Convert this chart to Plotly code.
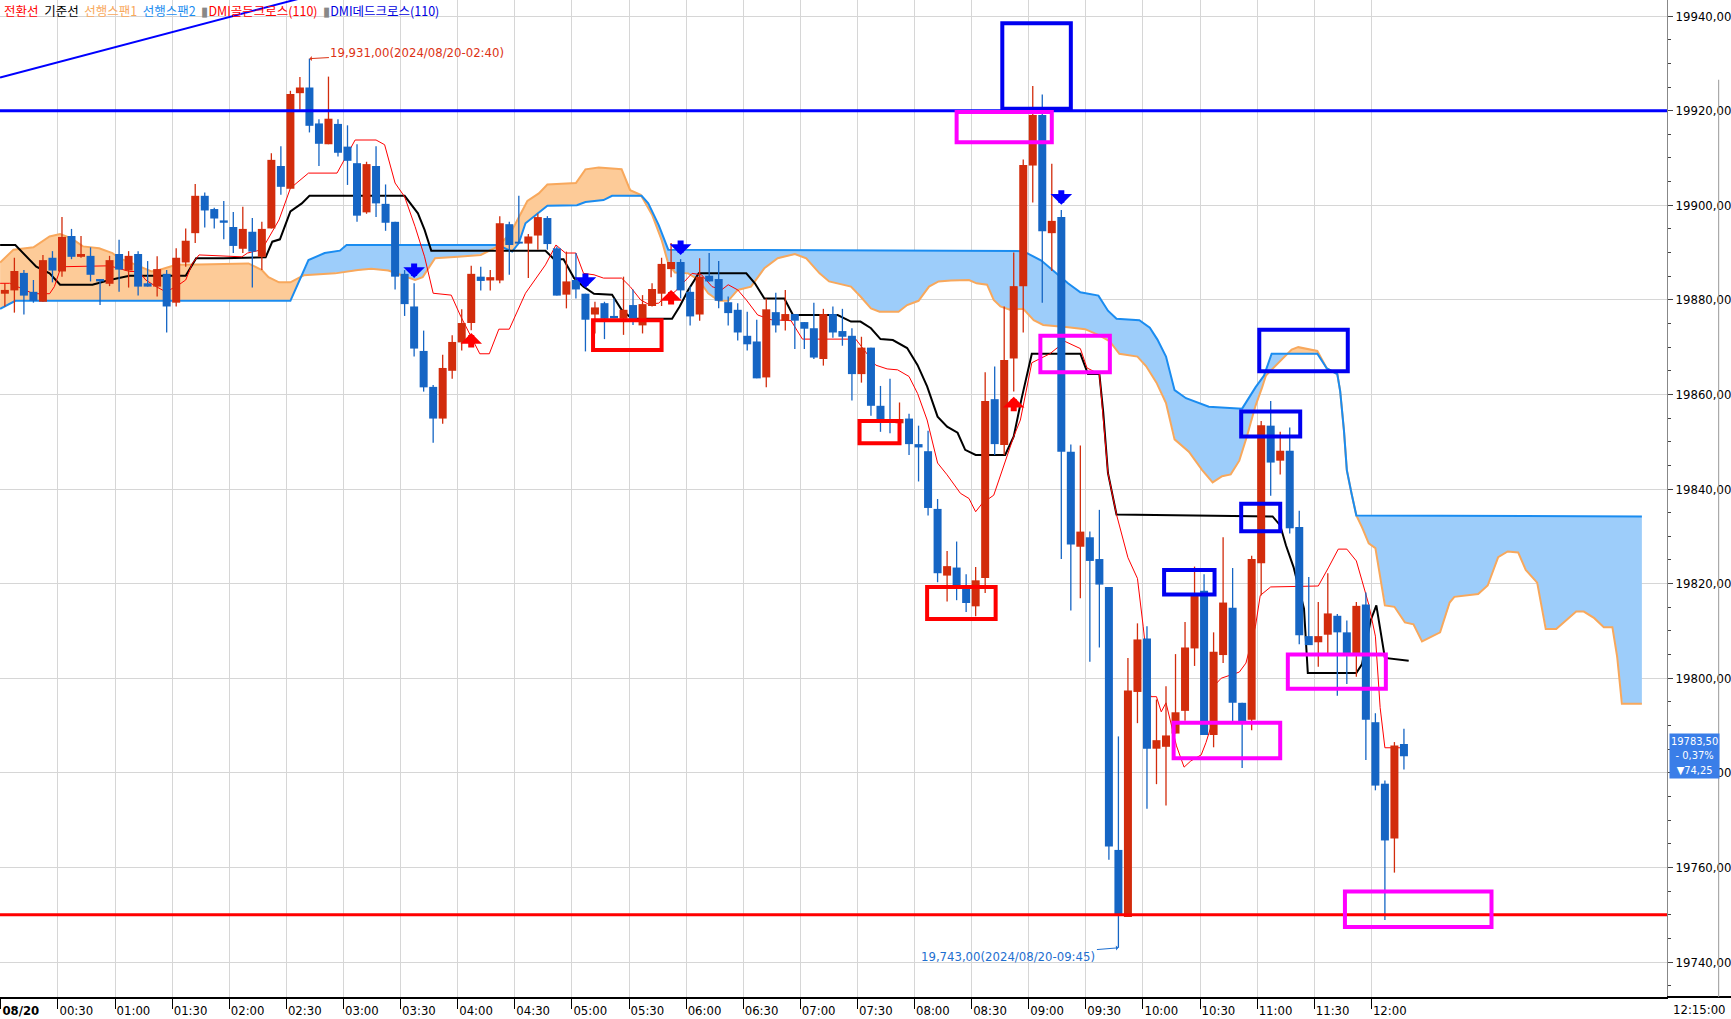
import plotly.graph_objects as go
import numpy as np

# ---------------- data (5-minute candles, 2024/08/20 00:00 .. 12:15) ----------------
open_ = [19881.3,19882.0,19885.7,19881.7,19879.6,19888.9,19886.0,19893.5,19889.1,19889.3,
         19884.4,19883.4,19889.7,19886.2,19889.7,19883.5,19882.8,19885.5,19879.4,19887.9,
         19894.1,19902.0,19899.2,19896.8,19895.4,19890.8,19894.4,19889.1,19895.1,19908.3,
         19903.5,19923.7,19924.9,19917.3,19912.9,19917.2,19912.4,19908.9,19898.5,19908.3,
         19900.3,19896.5,19885.5,19878.6,19869.2,19861.6,19854.9,19865.0,19871.0,19875.1,
         19884.9,19884.1,19884.1,19896.0,19892.3,19891.9,19893.6,19897.3,19890.9,19881.1,
         19884.2,19881.3,19876.9,19879.3,19876.6,19876.0,19878.9,19874.6,19878.7,19881.3,
         19886.5,19888.0,19881.7,19876.9,19885.1,19884.4,19879.5,19877.9,19872.4,19871.2,
         19863.6,19877.4,19875.6,19877.0,19875.3,19874.0,19867.5,19877.0,19873.4,19872.4,
         19864.3,19869.9,19857.6,19854.6,19853.9,19854.9,19849.5,19848.0,19835.8,19821.7,
         19823.4,19819.3,19815.2,19821.2,19859.0,19849.3,19867.6,19882.9,19908.4,19919.1,
         19894.1,19897.5,19847.9,19827.8,19829.8,19825.2,19819.3,19763.7,19749.5,19797.1,
         19808.4,19785.1,19785.5,19788.3,19793.1,19806.3,19818.5,19788.0,19804.9,19814.9,
         19794.8,19791.2,19824.3,19853.4,19846.0,19848.1,19832.0,19808.9,19807.6,19809.2,
         19813.2,19809.7,19805.1,19815.6,19790.7,19777.7,19766.1,19786.1]
close_ = [19882.1,19886.1,19880.9,19879.8,19888.4,19886.2,19893.3,19889.1,19889.7,19885.3,
          19883.9,19888.4,19886.4,19889.3,19882.8,19882.8,19886.5,19878.6,19888.9,19892.5,
          19902.0,19898.9,19897.2,19896.3,19891.4,19895.0,19890.2,19895.0,19909.6,19903.9,
          19923.5,19924.9,19916.8,19913.0,19918.3,19911.1,19909.4,19897.8,19908.7,19900.4,
          19896.3,19884.9,19879.1,19869.7,19861.5,19854.9,19865.6,19871.1,19875.1,19885.5,
          19884.0,19884.8,19896.2,19891.6,19891.9,19893.4,19897.5,19891.8,19880.9,19883.9,
          19882.2,19875.8,19878.4,19876.0,19876.1,19877.9,19875.8,19879.1,19882.3,19887.6,
          19888.0,19882.0,19876.5,19884.9,19883.9,19879.8,19877.2,19873.1,19870.6,19863.4,
          19878.0,19874.6,19877.0,19875.6,19873.9,19867.8,19877.0,19873.1,19872.2,19864.3,
          19869.9,19857.6,19854.2,19854.0,19854.8,19849.5,19848.8,19836.0,19822.2,19823.7,
          19819.2,19815.9,19820.7,19858.6,19849.5,19867.3,19882.9,19908.5,19919.1,19894.5,
          19896.7,19847.9,19828.3,19831.0,19824.8,19819.8,19764.4,19750.1,19797.4,19808.2,
          19785.1,19786.9,19787.9,19792.8,19806.5,19817.5,19788.0,19805.6,19816.0,19794.8,
          19790.9,19825.2,19853.5,19845.6,19848.1,19831.7,19809.1,19807.0,19808.9,19813.7,
          19809.7,19805.1,19815.3,19791.2,19777.3,19765.7,19785.8,19783.5]
high_ = [19883.5,19888.9,19886.3,19884.2,19889.5,19890.3,19897.5,19895.0,19893.5,19891.1,
         19884.4,19889.3,19892.7,19890.3,19890.3,19888.2,19889.2,19886.3,19890.9,19895.1,
         19904.5,19902.7,19899.5,19900.9,19898.6,19899.7,19897.3,19896.5,19911.0,19912.5,
         19924.2,19927.1,19931.0,19918.2,19927.2,19918.2,19916.9,19912.9,19909.2,19912.5,
         19904.4,19896.5,19886.3,19883.5,19873.5,19862.0,19868.4,19872.5,19878.0,19887.2,
         19887.0,19886.3,19897.7,19896.5,19902.0,19893.9,19898.2,19897.7,19891.3,19890.2,
         19889.9,19881.3,19879.6,19879.6,19880.3,19884.9,19882.2,19881.0,19883.5,19888.9,
         19892.0,19888.6,19882.8,19888.8,19889.9,19888.2,19880.7,19879.3,19877.5,19875.8,
         19880.3,19881.5,19882.1,19877.0,19875.3,19879.4,19878.1,19878.6,19878.1,19874.0,
         19872.2,19869.9,19861.8,19863.3,19858.3,19855.9,19853.4,19852.3,19837.9,19826.9,
         19828.9,19822.0,19823.5,19864.7,19865.9,19878.6,19890.0,19909.7,19925.2,19923.4,
         19908.8,19899.0,19849.4,19849.2,19831.0,19835.6,19819.3,19787.7,19804.3,19811.6,
         19811.0,19795.5,19798.3,19805.1,19811.9,19823.6,19822.0,19809.7,19829.8,19823.3,
         19794.8,19825.9,19854.4,19858.6,19852.1,19853.0,19835.4,19821.4,19816.1,19822.2,
         19813.6,19812.2,19816.1,19818.1,19792.6,19778.4,19786.5,19789.3]
low_ = [19878.6,19877.3,19876.9,19879.4,19879.6,19883.7,19884.9,19888.6,19888.9,19883.9,
        19878.9,19882.9,19881.7,19882.6,19880.9,19882.8,19880.7,19873.1,19878.6,19887.0,
        19892.0,19895.3,19895.1,19892.8,19889.9,19889.9,19882.6,19886.3,19895.1,19902.2,
        19903.5,19920.2,19915.4,19908.3,19912.9,19910.3,19904.3,19896.5,19898.2,19897.5,
        19894.6,19882.2,19876.6,19868.0,19860.6,19849.8,19853.8,19863.3,19869.3,19873.6,
        19882.0,19882.0,19883.5,19885.3,19891.9,19884.6,19890.6,19890.6,19880.9,19878.2,
        19880.3,19869.1,19872.9,19871.7,19876.1,19872.6,19874.7,19872.9,19878.6,19878.7,
        19884.8,19880.3,19874.6,19875.6,19883.9,19878.2,19874.6,19871.4,19869.3,19863.4,
        19861.5,19873.1,19873.5,19869.6,19869.6,19867.5,19866.1,19872.0,19870.3,19858.7,
        19862.5,19855.5,19852.1,19851.8,19853.9,19847.2,19841.6,19834.4,19820.3,19816.2,
        19816.5,19814.0,19813.1,19818.0,19847.2,19847.2,19860.6,19873.1,19900.6,19879.4,
        19886.1,19825.2,19814.3,19816.9,19803.5,19806.5,19761.6,19743.0,19749.5,19790.5,
        19772.4,19777.6,19773.1,19788.3,19791.0,19802.6,19788.0,19785.4,19803.2,19790.5,
        19781.0,19789.0,19817.5,19838.6,19843.1,19830.6,19807.2,19807.0,19802.4,19805.1,
        19796.3,19798.8,19800.3,19782.7,19776.3,19748.9,19758.9,19780.7]

tick_text = ["<b>08/20</b>", "00:30", "01:00", "01:30", "02:00", "02:30", "03:00", "03:30",
             "04:00", "04:30", "05:00", "05:30", "06:00", "06:30", "07:00", "07:30", "08:00",
             "08:30", "09:00", "09:30", "10:00", "10:30", "11:00", "11:30", "12:00"]

# 전환선 (conversion line) vertices, x in candle units
tenkan_x = [-0.5,0.5,3.0,4.7,5.2,5.9,11.0,13.1,14.1,14.8,15.9,16.9,18.0,19.0,19.7,20.4,24.9,25.5,27.0,28.8,
            30.0,31.9,34.9,36.8,39.0,39.9,41.0,42.0,43.1,44.1,45.0,46.9,47.9,49.9,50.9,51.9,53.0,54.7,56.8,57.9,
            58.9,60.0,60.8,61.9,62.9,64.8,65.7,66.8,67.6,68.7,69.4,70.4,72.2,73.2,74.3,75.3,76.0,77.0,77.9,79.1,
            80.5,82.6,83.8,89.4,91.5,92.7,93.8,95.0,95.9,96.9,98.0,99.0,100.4,101.3,102.0,102.7,103.9,105.1,106.0,106.7,
            107.9,109.8,111.4,113.0,113.7,115.0,115.9,116.8,118.0,119.0,119.6,120.4,121.0,121.5,122.0,123.1,123.9,124.6,125.7,126.2,
            126.7,127.2,127.8,129.7,130.4,131.4,131.9,133.0,138.0,139.1,140.1,141.0,142.0,142.6,143.3,144.0,144.5,145.0,147.0]
tenkan_y = [19883.5,19883.5,19881.3,19881.3,19882.8,19887.0,19887.2,19886.0,19886.0,19884.2,
            19882.8,19881.7,19882.8,19884.2,19887.7,19889.5,19889.1,19889.9,19890.6,19896.9,
            19903.6,19906.8,19906.8,19913.8,19913.8,19912.8,19904.7,19901.8,19895.5,19889.1,
            19881.4,19881.0,19876.5,19868.6,19868.6,19873.8,19873.8,19881.4,19887.4,19891.6,
            19889.9,19889.9,19885.6,19885.3,19884.6,19884.6,19882.8,19880.0,19879.1,19879.3,
            19880.7,19881.7,19885.6,19885.3,19882.8,19882.1,19883.2,19882.1,19880.0,19876.8,
            19875.8,19875.6,19871.7,19871.7,19866.2,19865.4,19865.2,19863.8,19860.2,19854.6,
            19845.5,19843.0,19839.1,19838.0,19835.2,19837.0,19838.7,19845.8,19851.1,19854.6,
            19866.7,19868.6,19871.2,19869.7,19865.6,19864.3,19843.4,19834.6,19825.5,19821.1,
            19811.0,19796.1,19796.1,19792.9,19794.8,19785.7,19781.2,19782.5,19783.8,19786.4,
            19789.6,19798.7,19800.0,19801.3,19803.2,19811.0,19817.5,19819.3,19819.5,19823.5,
            19827.3,19827.3,19824.8,19820.6,19815.6,19808.9,19793.8,19785.3,19785.3]

# 기준선 (base line)
kijun_x = [-0.5,1.1,3.3,4.7,5.8,9.2,11.0,13.1,19.0,20.1,23.0,27.4,28.1,28.9,30.0,31.2,32.0,42.0,43.4,44.1,
           44.8,56.8,57.7,58.7,59.8,60.8,61.9,63.8,64.8,65.9,70.1,70.9,71.8,72.9,77.9,78.8,79.8,81.9,82.8,87.5,
           88.9,89.9,91.0,92.0,93.3,94.8,95.9,96.9,98.0,99.0,100.1,100.9,102.0,105.1,106.0,106.8,107.9,113.0,113.8,115.0,
           115.4,115.9,116.8,133.2,134.0,134.6,135.4,136.5,136.9,142.0,142.6,143.5,144.1,145.0,147.5]
kijun_y = [19891.6,19891.6,19887.0,19885.6,19883.2,19883.2,19884.2,19885.1,19885.1,19888.8,
           19888.8,19889.0,19892.3,19892.8,19898.7,19900.4,19902.0,19902.0,19898.3,19894.8,
           19890.4,19890.4,19888.6,19888.6,19884.6,19882.8,19881.3,19881.1,19877.9,19876.0,
           19876.0,19878.6,19882.1,19885.6,19885.6,19883.5,19880.3,19880.3,19876.8,19876.8,
           19875.4,19875.4,19874.0,19871.7,19871.5,19869.8,19866.2,19861.7,19855.3,19853.2,
           19851.9,19848.3,19847.2,19847.2,19851.1,19858.9,19868.6,19868.6,19864.3,19864.3,
           19856.3,19843.4,19834.6,19834.2,19832.3,19828.1,19823.5,19814.7,19801.1,19801.1,
           19803.0,19812.2,19815.4,19804.3,19803.7]

# 선행스팬1 (leading span 1)
span1_x = [-0.5,0.9,3.0,4.7,5.8,7.0,8.2,9.9,11.3,12.0,13.4,15.4,16.2,18.0,20.4,25.6,27.0,27.7,28.8,30.0,
           31.4,34.7,37.1,38.5,40.3,43.1,43.9,45.2,47.6,50.0,51.8,52.8,53.3,54.9,56.1,57.0,60.0,61.0,62.4,64.8,
           65.7,66.8,68.0,69.0,69.7,70.4,71.8,72.9,73.9,75.0,76.0,77.0,78.4,79.8,81.2,83.0,84.2,85.6,86.6,88.9,
           89.9,91.0,91.9,93.9,94.8,96.0,97.1,98.1,99.4,101.3,102.1,103.2,103.9,104.6,105.6,107.0,108.1,109.1,111.7,113.5,
           115.0,116.1,117.1,119.0,119.9,121.0,122.0,122.9,124.4,125.8,126.9,127.9,128.8,129.7,130.5,131.4,132.1,132.5,135.2,135.9,
           137.9,138.9,140.0,140.3,140.7,141.0,141.5,142.0,142.6,143.3,144.0,145.0,146.0,147.1,148.0,148.9,150.8,151.8,152.3,154.8,
           155.8,156.9,157.9,159.0,159.8,161.0,161.9,163.0,165.1,165.9,167.0,168.0,168.9,169.4,169.9,172.0]
span1_y = [19887.9,19890.6,19891.1,19893.4,19893.9,19893.0,19891.3,19890.9,19889.9,19888.8,
           19887.7,19886.0,19886.3,19887.4,19887.5,19887.7,19886.3,19884.8,19883.7,19883.7,
           19885.2,19885.6,19886.3,19886.6,19886.2,19884.2,19884.8,19888.8,19889.1,19889.5,
           19891.3,19893.4,19894.8,19900.9,19902.5,19904.4,19904.7,19907.6,19908.0,19907.6,
           19903.2,19902.2,19898.0,19892.7,19887.7,19885.8,19885.6,19884.2,19881.4,19879.8,
           19879.8,19882.1,19882.8,19886.7,19888.8,19889.7,19888.8,19885.6,19883.9,19882.8,
           19880.7,19878.2,19877.5,19877.5,19878.9,19879.8,19882.8,19883.9,19884.1,19884.2,
           19883.5,19883.2,19880.0,19878.6,19877.9,19878.1,19875.7,19874.7,19874.2,19873.8,
           19872.5,19871.2,19868.6,19868.0,19866.0,19862.5,19858.2,19850.5,19847.9,19844.0,
           19841.4,19842.7,19843.1,19846.0,19851.1,19857.6,19861.5,19864.0,19869.5,19870.0,
           19869.2,19865.5,19864.3,19860.7,19852.3,19844.0,19839.0,19834.4,19831.9,19828.5,
           19827.5,19815.4,19815.1,19811.8,19811.4,19807.8,19809.7,19816.0,19817.2,19817.8,
           19819.6,19825.6,19826.8,19826.6,19822.9,19820.2,19810.4,19810.4,19814.1,19814.1,
           19812.7,19810.8,19810.8,19804.6,19794.6,19794.6]

# 선행스팬2 (leading span 2)
span2_x = [-0.5,1.1,30.0,31.9,33.6,35.2,35.9,51.8,53.3,54.0,54.7,55.8,57.0,60.1,61.0,62.9,63.8,66.9,67.6,68.7,
           69.7,107.0,108.9,111.7,113.0,114.9,115.9,116.8,119.2,120.3,121.1,122.0,122.9,124.1,126.5,130.0,131.4,132.3,133.1,137.9,
           138.9,140.0,140.3,140.7,141.0,141.5,142.0,172.0]
span2_y = [19878.1,19879.8,19879.8,19888.4,19889.9,19890.4,19891.6,19891.6,19890.2,19892.0,
           19896.2,19898.0,19899.9,19900.0,19900.7,19901.1,19902.0,19902.0,19900.4,19895.8,
           19890.6,19890.3,19888.3,19883.5,19881.6,19880.9,19877.7,19876.0,19875.7,19874.1,
           19871.6,19868.0,19860.9,19859.2,19857.4,19857.0,19861.5,19864.0,19868.6,19868.6,
           19865.5,19864.3,19860.7,19852.3,19844.0,19839.0,19834.4,19834.2]

# drawn trend line and horizontal levels
trend_x = [-0.5, 40.0]
trend_y = [19927.0, 19948.5]
level_blue = 19920.0
level_red = 19750.0

# DMI signals
dmi_dead_x = [43, 61, 71, 111]
dmi_dead_y = [19884.6, 19882.5, 19889.5, 19900.1]
dmi_gold_x = [49, 70, 106]
dmi_gold_y = [19873.0, 19882.1, 19859.5]

# user-drawn boxes: x0, x1, y0, y1, colour
boxes = [
    (104.8, 112.0, 19920.4, 19938.5, "#0000f0"),
    (100.0, 110.0, 19913.3, 19919.7, "#ff00ff"),
    (108.8, 116.1, 19864.7, 19872.4, "#ff00ff"),
    (61.8, 69.0, 19869.4, 19875.7, "#ff0000"),
    (89.8, 94.0, 19849.7, 19854.4, "#ff0000"),
    (96.9, 104.1, 19812.5, 19819.3, "#ff0000"),
    (121.8, 127.1, 19817.7, 19822.9, "#0000f0"),
    (122.8, 134.0, 19783.1, 19790.6, "#ff00ff"),
    (129.9, 134.0, 19831.1, 19836.9, "#0000f0"),
    (129.9, 136.1, 19851.1, 19856.4, "#0000f0"),
    (131.8, 141.1, 19864.9, 19873.7, "#0000f0"),
    (134.8, 145.1, 19797.8, 19805.0, "#ff00ff"),
    (140.8, 156.2, 19747.4, 19754.9, "#ff00ff"),
]

y_ticks = list(range(19740, 19941, 20))

# ---------------- figure ----------------
RED = "#d22c0c"
BLUE = "#1565c4"
NARROW = "Liberation Sans Narrow, DejaVu Sans Condensed, Arial Narrow, sans-serif"

fig = go.Figure()

# cloud fills
xs = np.linspace(-0.5, 172.0, 6901)
s1 = np.interp(xs, span1_x, span1_y)
s2 = np.interp(xs, span2_x, span2_y)
lo = np.minimum(s1, s2)
fig.add_trace(go.Scatter(x=xs, y=lo, mode="lines", line=dict(width=0), hoverinfo="skip"))
fig.add_trace(go.Scatter(x=xs, y=s1, mode="lines", line=dict(width=0), fill="tonexty",
                         fillcolor="#fdcb98", hoverinfo="skip"))
fig.add_trace(go.Scatter(x=xs, y=lo, mode="lines", line=dict(width=0), hoverinfo="skip"))
fig.add_trace(go.Scatter(x=xs, y=s2, mode="lines", line=dict(width=0), fill="tonexty",
                         fillcolor="#9dcdfa", hoverinfo="skip"))

fig.add_trace(go.Scatter(x=span1_x, y=span1_y, mode="lines", line=dict(color="#f8a85c", width=2)))
fig.add_trace(go.Scatter(x=span2_x, y=span2_y, mode="lines", line=dict(color="#1a8cf0", width=2)))
fig.add_trace(go.Scatter(x=kijun_x, y=kijun_y, mode="lines", line=dict(color="#000000", width=2)))
fig.add_trace(go.Scatter(x=tenkan_x, y=tenkan_y, mode="lines", line=dict(color="#ff0000", width=1)))
fig.add_trace(go.Scatter(x=trend_x, y=trend_y, mode="lines", line=dict(color="#0000ff", width=2)))

# candles
for col, up in ((RED, True), (BLUE, False)):
    wx, wy, bx, by = [], [], [], []
    for i, (o, h, l, c) in enumerate(zip(open_, high_, low_, close_)):
        if (c >= o) != up:
            continue
        wx += [i, i, None]
        wy += [l, h, None]
        bot, top = min(o, c), max(o, c)
        if top - bot < 0.4:
            mid = (top + bot) / 2
            bot, top = mid - 0.2, mid + 0.2
        bx += [i, i, None]
        by += [bot, top, None]
    fig.add_trace(go.Scatter(x=wx, y=wy, mode="lines", line=dict(color=col, width=1.3), hoverinfo="skip"))
    fig.add_trace(go.Scatter(x=bx, y=by, mode="lines", line=dict(color=col, width=8), hoverinfo="skip"))

shapes = []
shapes.append(dict(type="line", xref="paper", x0=0, x1=1, yref="y", y0=level_blue, y1=level_blue,
                   line=dict(color="#0000ff", width=3)))
shapes.append(dict(type="line", xref="paper", x0=0, x1=1, yref="y", y0=level_red, y1=level_red,
                   line=dict(color="#ff0000", width=3)))
for x0, x1, y0, y1, c in boxes:
    shapes.append(dict(type="rect", xref="x", yref="y", x0=x0, x1=x1, y0=y0, y1=y1,
                       line=dict(color=c, width=4), fillcolor="rgba(0,0,0,0)"))
# bottom axis line continues under the price scale; right border of the scale
shapes.append(dict(type="line", xref="paper", x0=1, x1=1.04, yref="paper", y0=0, y1=0,
                   line=dict(color="black", width=2)))
shapes.append(dict(type="line", xref="paper", x0=1.031, x1=1.031, yref="paper", y0=0, y1=0.92,
                   line=dict(color="#999999", width=1)))

annotations = []
for x, y in zip(dmi_dead_x, dmi_dead_y):
    annotations.append(dict(x=x, y=y, xref="x", yref="y", text="", showarrow=True, ax=0, ay=-16,
                            arrowhead=1, arrowsize=0.6, arrowwidth=6, arrowcolor="#0000ff", standoff=0))
for x, y in zip(dmi_gold_x, dmi_gold_y):
    annotations.append(dict(x=x, y=y, xref="x", yref="y", text="", showarrow=True, ax=0, ay=16,
                            arrowhead=1, arrowsize=0.6, arrowwidth=6, arrowcolor="#ff0000", standoff=0))

hi_i = int(np.argmax(high_))
lo_i = int(np.argmin(low_))
annotations.append(dict(x=hi_i, y=high_[hi_i], xref="x", yref="y",
                        text="19,931,00(2024/08/20-02:40)",
                        showarrow=True, ax=108, ay=-6, arrowhead=1, arrowsize=0.8, arrowwidth=1,
                        arrowcolor="#dc3214", font=dict(color="#dc3214", size=13, family=NARROW)))
annotations.append(dict(x=lo_i, y=low_[lo_i], xref="x", yref="y",
                        text="19,743,00(2024/08/20-09:45)",
                        showarrow=True, ax=-110, ay=9, arrowhead=1, arrowsize=0.8, arrowwidth=1,
                        arrowcolor="#1e6fd0", font=dict(color="#1e6fd0", size=13, family=NARROW)))

S = "\u00a0\u00a0"
legend_txt = ('<span style="color:#ff0000">전환선</span>' + S +
              '<span style="color:#000000">기준선</span>' + S +
              '<span style="color:#f8a85c">선행스팬1</span>' + S +
              '<span style="color:#1a8cf0">선행스팬2</span>' + S +
              '<span style="color:#888888">▮</span><span style="color:#ff0000">DMI골든크로스(110)</span>' + S +
              '<span style="color:#888888">▮</span><span style="color:#0000e0">DMI데드크로스(110)</span>')
annotations.append(dict(x=0, y=1, xref="paper", yref="paper", xanchor="left", yanchor="top",
                        xshift=2, yshift=1, text=legend_txt, showarrow=False,
                        font=dict(size=12.5, family="Noto Sans CJK KR")))

last = close_[-1]
annotations.append(dict(x=1, y=last, xref="paper", yref="y", xanchor="left", yanchor="middle",
                        xshift=2, showarrow=False, bgcolor="#3a7ee8", borderpad=1,
                        text="%s<br>- 0,37%%<br>▼74,25" % (f"{last:.2f}".replace(".", ",")),
                        font=dict(color="white", size=11, family=NARROW)))
annotations.append(dict(x=1, y=0, xref="paper", yref="paper", xanchor="left", yanchor="top",
                        xshift=4, yshift=-3, text="12:15:00", showarrow=False,
                        font=dict(color="black", size=13, family=NARROW)))

fig.update_layout(
    width=1731, height=1019,
    margin=dict(l=0, r=56, t=0, b=22),
    paper_bgcolor="white", plot_bgcolor="white",
    showlegend=False,
    shapes=shapes, annotations=annotations,
    xaxis=dict(range=[-0.512, 174.64],
               tickvals=[6 * k - 0.42 for k in range(len(tick_text))],
               ticktext=tick_text, showgrid=True, gridcolor="#d6d6d6", gridwidth=1,
               ticks="outside", ticklen=10, tickcolor="black", tickwidth=1,
               ticklabelposition="outside right",
               showline=True, linecolor="black", linewidth=2, zeroline=False,
               tickfont=dict(size=13, family=NARROW, color="black")),
    yaxis=dict(side="right", range=[19732.6, 19943.4],
               tickvals=y_ticks, ticktext=[f"{v},00" for v in y_ticks],
               showgrid=True, gridcolor="#d6d6d6", gridwidth=1,
               ticks="outside", ticklen=5, tickcolor="#444444",
               minor=dict(tick0=19740, dtick=5, ticks="outside", ticklen=3, tickcolor="#444444", showgrid=False),
               showline=True, linecolor="#888888", linewidth=1, zeroline=False,
               tickfont=dict(size=13, family=NARROW, color="black")),
)

fig.write_html("out.html", include_plotlyjs=True, config={"displayModeBar": False},
               post_script="document.body.style.margin='0px';document.body.style.overflow='hidden';")
